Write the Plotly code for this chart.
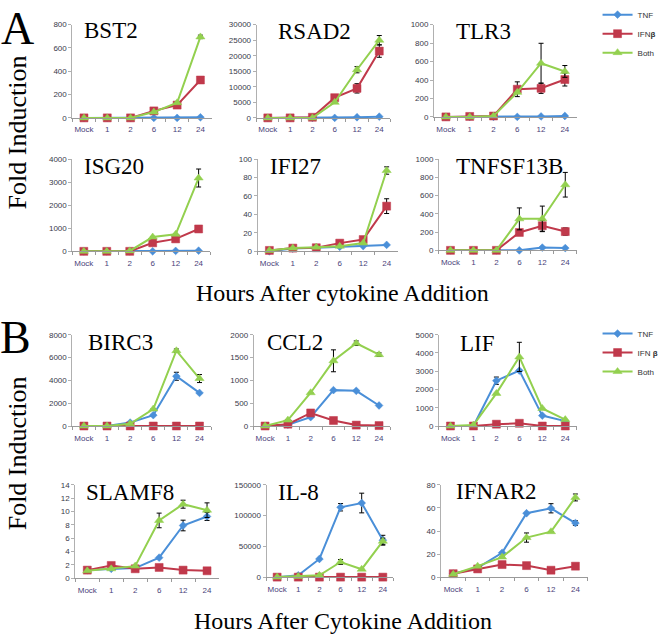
import plotly.graph_objects as go

W, H = 664, 641

categories = ["Mock", "1", "2", "6", "12", "24"]

# ---------- Panel A ----------
BST2_TNF = [0, 0, 0, 0, 0, 5]
BST2_IFN = [0, 0, 0, 60, 110, 325]
BST2_BOTH = [0, 0, 0, 50, 130, 695]
BST2_TNF_ERR = [None] * 6
BST2_IFN_ERR = [None, None, None, None, None, 8]
BST2_BOTH_ERR = [None, None, None, None, None, 15]

RSAD2_TNF = [0, 0, 0, 0, 200, 400]
RSAD2_IFN = [0, 0, 200, 6500, 9500, 21500]
RSAD2_BOTH = [0, 0, 0, 5000, 15500, 25000]
RSAD2_TNF_ERR = [None] * 6
RSAD2_IFN_ERR = [None, None, None, None, 1500, 2000]
RSAD2_BOTH_ERR = [None, None, None, None, 1000, 1500]

TLR3_TNF = [0, 0, 0, 0, 5, 10]
TLR3_IFN = [0, 5, 10, 300, 310, 405]
TLR3_BOTH = [0, 0, 10, 266, 582, 493]
TLR3_TNF_ERR = [None] * 6
TLR3_IFN_ERR = [None, None, None, 80, 55, 70]
TLR3_BOTH_ERR = [None, None, None, None, 216, 64]

ISG20_TNF = [0, 0, 0, 0, 20, 30]
ISG20_IFN = [0, 0, 0, 370, 540, 970]
ISG20_BOTH = [0, 0, 20, 620, 740, 3180]
ISG20_TNF_ERR = [None] * 6
ISG20_IFN_ERR = [None, None, None, None, 100, 80]
ISG20_BOTH_ERR = [None, None, None, None, None, 390]

IFI27_TNF = [0, 3, 4, 5, 5.7, 7]
IFI27_IFN = [1, 3.5, 3.9, 8.9, 12.8, 49]
IFI27_BOTH = [1, 3.5, 4.5, 5.5, 9, 87.6]
IFI27_TNF_ERR = [None] * 6
IFI27_IFN_ERR = [None, None, None, None, None, 8]
IFI27_BOTH_ERR = [None, None, None, None, None, 4]

TNFSF13B_TNF = [0, 0, 0, 0, 30, 25]
TNFSF13B_IFN = [0, 0, 0, 196, 270, 206]
TNFSF13B_BOTH = [0, 0, 0, 345, 345, 719]
TNFSF13B_TNF_ERR = [None] * 6
TNFSF13B_IFN_ERR = [None, None, None, None, 60, 40]
TNFSF13B_BOTH_ERR = [None, None, None, 120, 140, 135]

# ---------- Panel B ----------
BIRC3_TNF = [0, 0, 300, 950, 4360, 2900]
BIRC3_IFN = [0, 0, 0, 0, 0, 0]
BIRC3_BOTH = [0, 0, 200, 1490, 6600, 4160]
BIRC3_TNF_ERR = [None, None, None, None, 350, None]
BIRC3_IFN_ERR = [None] * 6
BIRC3_BOTH_ERR = [None, None, None, None, 150, 350]

CCL2_TNF = [0, 30, 193, 786, 771, 450]
CCL2_IFN = [0, 40, 286, 121, 20, 10]
CCL2_BOTH = [0, 129, 729, 1429, 1814, 1564]
CCL2_TNF_ERR = [None] * 6
CCL2_IFN_ERR = [None] * 6
CCL2_BOTH_ERR = [None, None, None, 240, 50, 40]

LIF_TNF = [0, 0, 2482, 3036, 571, 268]
LIF_IFN = [0, 0, 100, 150, 0, 0]
LIF_BOTH = [0, 50, 1786, 3786, 964, 350]
LIF_TNF_ERR = [None, None, 200, None, None, None]
LIF_IFN_ERR = [None] * 6
LIF_BOTH_ERR = [None, None, None, 800, None, None]

SLAMF8_TNF = [1.2, 1.4, 1.5, 3.07, 7.9, 9.26]
SLAMF8_IFN = [1.2, 1.9, 1.4, 1.6, 1.2, 1.1]
SLAMF8_BOTH = [1.1, 1.4, 1.8, 8.66, 11.1, 10.2]
SLAMF8_TNF_ERR = [None, None, None, None, 0.8, 0.6]
SLAMF8_IFN_ERR = [None] * 6
SLAMF8_BOTH_ERR = [None, None, None, 1.1, 0.6, 1.1]

IL8_TNF = [0, 3000, 29500, 113600, 120500, 60000]
IL8_IFN = [0, 0, 0, 0, 0, 0]
IL8_BOTH = [0, 1000, 3000, 24600, 12860, 58400]
IL8_TNF_ERR = [None, None, None, 6000, 16000, 8000]
IL8_IFN_ERR = [None] * 6
IL8_BOTH_ERR = [None, None, None, 4000, None, 5000]

IFNAR2_TNF = [3, 8, 21.1, 55.4, 59.7, 46.9]
IFNAR2_IFN = [3, 7.1, 10.9, 10, 6, 9.5]
IFNAR2_BOTH = [2.5, 9.5, 17.4, 34.3, 39.4, 69.1]
IFNAR2_TNF_ERR = [None, None, None, None, 4, 2]
IFNAR2_IFN_ERR = [None] * 6
IFNAR2_BOTH_ERR = [None, None, None, 4, None, 3]

# ---------- layout helpers ----------
panels = [
    ("BST2", BST2_TNF, BST2_IFN, BST2_BOTH, BST2_TNF_ERR, BST2_IFN_ERR, BST2_BOTH_ERR, 800, 200),
    ("RSAD2", RSAD2_TNF, RSAD2_IFN, RSAD2_BOTH, RSAD2_TNF_ERR, RSAD2_IFN_ERR, RSAD2_BOTH_ERR, 30000, 5000),
    ("TLR3", TLR3_TNF, TLR3_IFN, TLR3_BOTH, TLR3_TNF_ERR, TLR3_IFN_ERR, TLR3_BOTH_ERR, 1000, 200),
    ("ISG20", ISG20_TNF, ISG20_IFN, ISG20_BOTH, ISG20_TNF_ERR, ISG20_IFN_ERR, ISG20_BOTH_ERR, 4000, 1000),
    ("IFI27", IFI27_TNF, IFI27_IFN, IFI27_BOTH, IFI27_TNF_ERR, IFI27_IFN_ERR, IFI27_BOTH_ERR, 100, 20),
    ("TNFSF13B", TNFSF13B_TNF, TNFSF13B_IFN, TNFSF13B_BOTH, TNFSF13B_TNF_ERR, TNFSF13B_IFN_ERR, TNFSF13B_BOTH_ERR, 1000, 200),
    ("BIRC3", BIRC3_TNF, BIRC3_IFN, BIRC3_BOTH, BIRC3_TNF_ERR, BIRC3_IFN_ERR, BIRC3_BOTH_ERR, 8000, 2000),
    ("CCL2", CCL2_TNF, CCL2_IFN, CCL2_BOTH, CCL2_TNF_ERR, CCL2_IFN_ERR, CCL2_BOTH_ERR, 2000, 500),
    ("LIF", LIF_TNF, LIF_IFN, LIF_BOTH, LIF_TNF_ERR, LIF_IFN_ERR, LIF_BOTH_ERR, 5000, 1000),
    ("SLAMF8", SLAMF8_TNF, SLAMF8_IFN, SLAMF8_BOTH, SLAMF8_TNF_ERR, SLAMF8_IFN_ERR, SLAMF8_BOTH_ERR, 14, 2),
    ("IL-8", IL8_TNF, IL8_IFN, IL8_BOTH, IL8_TNF_ERR, IL8_IFN_ERR, IL8_BOTH_ERR, 150000, 50000),
    ("IFNAR2", IFNAR2_TNF, IFNAR2_IFN, IFNAR2_BOTH, IFNAR2_TNF_ERR, IFNAR2_IFN_ERR, IFNAR2_BOTH_ERR, 80, 20),
]

# pixel boxes: (x0, x1, ytop, ybottom), title anchor (x, y)
boxes = [
    (73, 214, 18, 113), (259, 394, 18, 113), (438, 582, 18, 112),
    (73, 212, 155, 249), (260, 402, 155, 249), (443, 582, 155, 248),
    (73, 213, 334, 427), (256, 394, 334, 427), (443, 582, 334, 427),
    (76, 221, 487, 582), (269, 397, 487, 581), (445, 593, 487, 581),
]
title_pos = [
    (83, 24), (279, 25), (458, 25),
    (83, 163), (270, 163), (458, 163),
    (87, 342), (267, 342), (462, 343),
    (85, 495), (279, 495), (458, 494),
]

C_TNF = "#4a8fd8"
C_IFN = "#c0394b"
C_BOTH = "#93d04f"

SERIF = "Liberation Serif"
SANS = "Liberation Sans"

fig = go.Figure()
layout = dict(
    width=W, height=H,
    margin=dict(l=0, r=0, t=0, b=0),
    paper_bgcolor="white", plot_bgcolor="white",
    showlegend=True,
    annotations=[],
)

def px_x(v):
    return v / W

def px_y(v):
    return 1 - v / H

for i, (name, tnf, ifn, both, tnf_e, ifn_e, both_e, ymax, dtick) in enumerate(panels):
    n = i + 1
    xa = "x" if n == 1 else f"x{n}"
    ya = "y" if n == 1 else f"y{n}"
    legend_name = "legend" if i < 6 else "legend2"
    show = (i == 0) or (i == 6)
    ifn_label = "IFN<b>β</b>" if i < 6 else "IFN <b>β</b>"
    series = [
        ("TNF", tnf, tnf_e, C_TNF, "diamond", 6),
        (ifn_label, ifn, ifn_e, C_IFN, "square", 8),
        ("Both", both, both_e, C_BOTH, "triangle-up", 8),
    ]
    for sname, vals, errs, col, sym, msize in series:
        fig.add_trace(go.Scatter(
            x=categories, y=vals, name=sname, xaxis=xa, yaxis=ya,
            mode="lines+markers",
            line=dict(color=col, width=2),
            marker=dict(color=col, symbol=sym, size=msize,
                        line=dict(color=col, width=0.5)),
            error_y=dict(type="data", array=errs, visible=True,
                         color="black", thickness=1, width=2.5),
            cliponaxis=False,
            showlegend=show, legend=legend_name,
        ))
    x0, x1, yt, yb = boxes[i]
    xkey = "xaxis" if n == 1 else f"xaxis{n}"
    ykey = "yaxis" if n == 1 else f"yaxis{n}"
    layout[xkey] = dict(
        domain=[px_x(x0), px_x(x1)], anchor=ya,
        type="category", categoryorder="array", categoryarray=categories,
        range=[-0.5, 5.5], showgrid=False, zeroline=False,
        showline=True, linecolor="#9a9a9a", linewidth=1,
        ticks="outside", ticklen=3, tickcolor="#9a9a9a", tickson="boundaries",
        tickangle=0, ticklabelstandoff=4,
        tickfont=dict(family=SANS, size=8, color="#4a3f7a"),
        fixedrange=True,
    )
    layout[ykey] = dict(
        domain=[px_y(yb), px_y(yt)], anchor=xa,
        range=[0, ymax], dtick=dtick, tick0=0, tickformat="d",
        showgrid=False, zeroline=False,
        showline=True, linecolor="#b0b0b0", linewidth=1,
        ticks="outside", ticklen=3, tickcolor="#b0b0b0",
        tickfont=dict(family=SANS, size=8, color="#3a3a4a"),
        fixedrange=True,
    )
    tx, ty = title_pos[i]
    layout["annotations"].append(dict(
        text=name, x=px_x(tx), y=px_y(ty), xref="paper", yref="paper",
        xanchor="left", yanchor="middle", showarrow=False,
        font=dict(family=SERIF, size=23, color="black"),
    ))

big = [
    ("A", 18, 22, 46),
    ("B", 16, 337, 46),
]
for t, x, y, s in big:
    layout["annotations"].append(dict(
        text=t, x=px_x(x), y=px_y(y), xref="paper", yref="paper",
        xanchor="center", yanchor="middle", showarrow=False,
        font=dict(family=SERIF, size=s, color="black"),
    ))

axis_titles = [
    ("Fold Induction", 18, 128, -90, 26),
    ("Fold Induction", 18, 455, -90, 26),
    ("Hours After cytokine Addition", 346, 291, 0, 24),
    ("Hours After Cytokine Addition", 346, 626, 0, 24),
]
for t, x, y, rot, s in axis_titles:
    layout["annotations"].append(dict(
        text=t, x=px_x(x), y=px_y(y), xref="paper", yref="paper",
        xanchor="center", yanchor="middle", showarrow=False, textangle=rot,
        font=dict(family=SERIF, size=s, color="black"),
    ))

layout["legend"] = dict(
    x=px_x(603), y=px_y(-7), xanchor="left", yanchor="top",
    font=dict(family=SANS, size=8, color="#333333"),
    bgcolor="rgba(0,0,0,0)", itemwidth=30, tracegroupgap=0,
)
layout["legend2"] = dict(
    x=px_x(603), y=px_y(318), xanchor="left", yanchor="top",
    font=dict(family=SANS, size=8, color="#333333"),
    bgcolor="rgba(0,0,0,0)", itemwidth=30, tracegroupgap=0,
)

fig.update_layout(**layout)
fig.write_html("out.html", config={"displayModeBar": False},
               post_script="document.body.style.margin='0';")
